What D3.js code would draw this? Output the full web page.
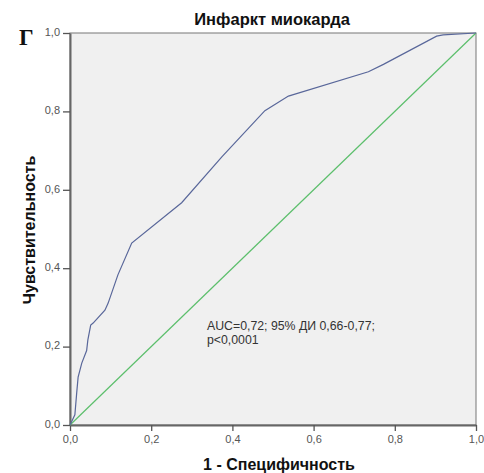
<!DOCTYPE html>
<html>
<head>
<meta charset="utf-8">
<script src="https://cdn.jsdelivr.net/npm/d3@7"></script>
<style>
  html, body { margin: 0; padding: 0; background: #fff; }
  svg { display: block; }
</style>
</head>
<body>
<div id="chart"></div>
<script>
// ROC curve: false positive rate (1 - specificity) vs sensitivity
const fpr = [0, 0.012, 0.0165, 0.02, 0.029, 0.041, 0.044, 0.051, 0.057, 0.086, 0.094, 0.118, 0.152, 0.275, 0.374, 0.48, 0.538, 0.735, 0.772, 0.903, 0.919, 1];
const tpr = [0, 0.026, 0.082, 0.122, 0.158, 0.19, 0.217, 0.255, 0.26, 0.293, 0.311, 0.383, 0.464, 0.567, 0.684, 0.802, 0.839, 0.901, 0.92, 0.992, 0.995, 1];
const refLine = [0, 1];
const tickValues = [0, 0.2, 0.4, 0.6, 0.8, 1.0];
const tickLabels = ["0,0", "0,2", "0,4", "0,6", "0,8", "1,0"];

const W = 484, H = 473;
const plotL = 70, plotR = 476, plotT = 33, plotB = 425;

const svg = d3.select("#chart").append("svg").attr("width", W).attr("height", H);

const x = d3.scaleLinear().domain([0, 1]).range([plotL, plotR]);
const y = d3.scaleLinear().domain([0, 1]).range([plotB, plotT]);

// plot background
svg.append("rect").attr("x", plotL).attr("y", plotT)
  .attr("width", plotR - plotL).attr("height", plotB - plotT)
  .attr("fill", "#f0f0f0").attr("stroke", "#777").attr("stroke-width", 1);

// axes
const fmt = d => tickLabels[tickValues.indexOf(d)];
const xAxis = svg.append("g").attr("transform", `translate(0,${plotB})`)
  .call(d3.axisBottom(x).tickValues(tickValues).tickFormat(fmt).tickSize(6).tickPadding(4).tickSizeOuter(0));
const yAxis = svg.append("g").attr("transform", `translate(${plotL},0)`)
  .call(d3.axisLeft(y).tickValues(tickValues).tickFormat(fmt).tickSize(7).tickPadding(3).tickSizeOuter(0));
[xAxis, yAxis].forEach(g => {
  g.select(".domain").attr("stroke", "#666").attr("stroke-width", 2);
  g.selectAll(".tick line").attr("stroke", "#555").attr("stroke-width", 1.3);
  g.selectAll(".tick text").attr("fill", "#555").attr("font-family", "Liberation Sans, Arial, sans-serif").attr("font-size", 11);
});
yAxis.selectAll(".tick text").attr("dy", "0.2em");

// reference diagonal
svg.append("line")
  .attr("x1", x(refLine[0])).attr("y1", y(refLine[0]))
  .attr("x2", x(refLine[1])).attr("y2", y(refLine[1]))
  .attr("stroke", "#5cbf6c").attr("stroke-width", 1.2);

// ROC curve
const pts = fpr.map((v, i) => [v, tpr[i]]);
svg.append("path").datum(pts)
  .attr("d", d3.line().x(d => x(d[0])).y(d => y(d[1])))
  .attr("fill", "none").attr("stroke", "#59679a").attr("stroke-width", 1.2);

// title and axis labels
const font = "Liberation Sans, Arial, sans-serif";
svg.append("text").attr("x", 272).attr("y", 25).attr("text-anchor", "middle")
  .attr("font-family", font).attr("font-weight", "bold").attr("font-size", 16.5)
  .attr("fill", "#111").text("Инфаркт миокарда");
svg.append("text").attr("x", 279).attr("y", 470).attr("text-anchor", "middle")
  .attr("font-family", font).attr("font-weight", "bold").attr("font-size", 16)
  .attr("fill", "#111").text("1 - Специфичность");
svg.append("text").attr("transform", "translate(35,230) rotate(-90)").attr("text-anchor", "middle")
  .attr("font-family", font).attr("font-weight", "bold").attr("font-size", 16)
  .attr("fill", "#111").text("Чувствительность");
svg.append("text").attr("x", 19).attr("y", 45)
  .attr("font-family", "Liberation Serif, Times New Roman, serif").attr("font-weight", "bold").attr("font-size", 23)
  .attr("fill", "#111").text("Г");

// annotation
const ann = svg.append("text").attr("font-family", font).attr("font-size", 12.3).attr("fill", "#333");
ann.append("tspan").attr("x", 207).attr("y", 330).text("AUC=0,72; 95% ДИ 0,66-0,77;");
ann.append("tspan").attr("x", 207).attr("y", 344).text("p<0,0001");
</script>
</body>
</html>
